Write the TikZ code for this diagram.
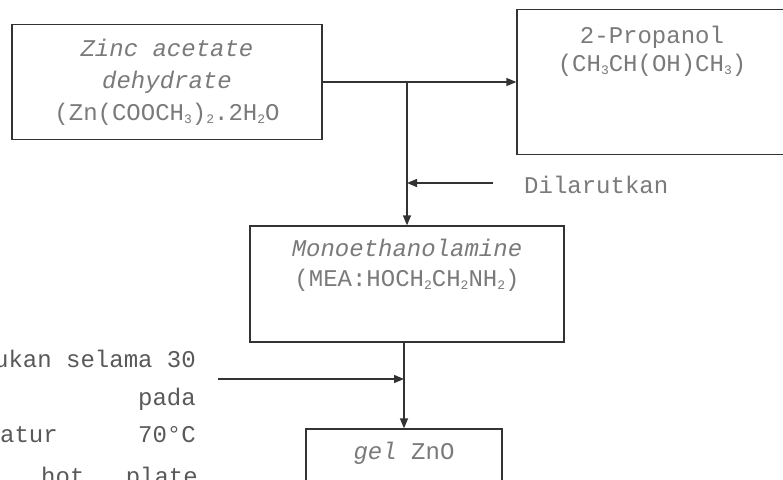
\documentclass[tikz,border=0pt]{standalone}
\usepackage{fontspec}
\setmainfont{Liberation Mono}
\usetikzlibrary{arrows.meta}
\definecolor{ink}{gray}{0.2}
\definecolor{txtc}{gray}{0.48}
\definecolor{lefttxt}{gray}{0.35}
\newcommand\chs[1]{\raisebox{-0.25ex}{\fontsize{13}{13}\selectfont #1}}
\begin{document}
\begin{tikzpicture}[x=1pt,y=-1pt,
  box/.style={draw=ink, line width=1.3pt, inner sep=0pt},
  txt/.style={text=txtc, font=\fontsize{24}{32}\selectfont, align=center, inner sep=0pt},
  ltxt/.style={text=lefttxt, font=\fontsize{24}{32}\selectfont, inner sep=0pt},
  ln/.style={draw=ink, line width=1.3pt},
  arr/.style={ln, -{Triangle[length=10pt,width=8pt]}}]
\useasboundingbox (0,0) rectangle (783,479);
\fill[white] (0,0) rectangle (783,479);
\clip (0,0) rectangle (783,479);
% boxes
\node[box, minimum width=310pt, minimum height=115pt] (zinc) at (167,82) {};
\node[txt] (zinct) at (zinc.center) {\textit{Zinc acetate}\\\textit{dehydrate}\\(Zn(COOCH\chs{3})\chs{2}.2H\chs{2}O};
\node[box, minimum width=270pt, minimum height=145pt] (prop) at (652,82) {};
\node[txt, font=\fontsize{24}{28}\selectfont] (propt) at (652,51) {2-Propanol\\(CH\chs{3}CH(OH)CH\chs{3})};
\node[box, minimum width=314pt, minimum height=116pt] (mea) at (407,284) {};
\node[txt, font=\fontsize{24}{30}\selectfont] (meat) at (407,265) {\textit{Monoethanolamine}\\(MEA:HOCH\chs{2}CH\chs{2}NH\chs{2})};
\node[box, minimum width=196pt, minimum height=80pt] (gel) at (404,469) {};
\node[txt] (gelt) at (404,453) {\textit{gel} ZnO};
% side texts
\node[txt, anchor=base west] (dil) at (524,193) {Dilarutkan};
\node[ltxt, anchor=base east] (l1) at (196,367) {ukan selama 30};
\node[ltxt, anchor=base east] (l2) at (196,405) {pada};
\node[ltxt, anchor=base west] (l3a) at (0,442) {atur};
\node[ltxt, anchor=base east] (l3b) at (196,442) {70°C};
\node[ltxt, anchor=base west] (l4a) at (41,484) {hot};
\node[ltxt, anchor=base east] (l4b) at (198,484) {plate};
% connectors
\coordinate (j) at (zinc.east -| mea.north);
\coordinate (d0) at (493,183);
\coordinate (h0) at (218,379);
\draw[arr] (zinc.east) -- (prop.west);
\draw[arr] (j) -- (mea.north);
\draw[arr] (d0) -- (d0 -| j);
\draw[arr] (mea.south -| gel.north) -- (gel.north);
\draw[arr] (h0) -- (h0 -| gel.north);
\end{tikzpicture}
\end{document}
